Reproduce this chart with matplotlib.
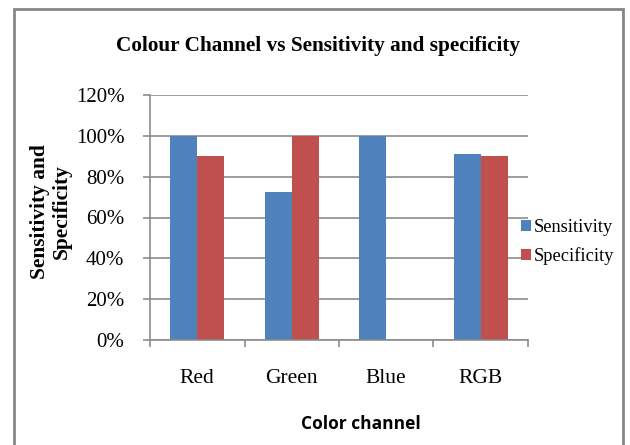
import numpy as np
import matplotlib.pyplot as plt
from matplotlib.patches import Rectangle
from matplotlib.ticker import PercentFormatter

# Data
channels = ["Red", "Green", "Blue", "RGB"]
sensitivity = [100, 72.7, 100, 90.9]
specificity = [90, 100, 0, 90]

BLUE, RED = "#4f81bd", "#c0504d"
GRID = "#8c8c8c"
SERIF = "Liberation Serif"

fig = plt.figure(figsize=(6.30, 4.45), dpi=100)
ax = fig.add_axes([150/630, 1 - 340/445, 378/630, 245/445])

# Bars, Excel style (gap width 150%)
xpos = np.arange(len(channels))
width = 1 / 3.5
ax.bar(xpos - width/2, sensitivity, width, color=BLUE, label="Sensitivity")
ax.bar(xpos + width/2, specificity, width, color=RED, label="Specificity")

# Axes
ax.set_xlim(-0.5, len(channels) - 0.5)
ax.set_ylim(0, 120)
ax.set_yticks(np.arange(0, 121, 20))
ax.yaxis.set_major_formatter(PercentFormatter(decimals=0))
ax.set_xticks(xpos)
ax.set_xticklabels(channels, family=SERIF, size=15.5)
ax.set_xticks(np.arange(-0.5, len(channels)), minor=True)
ax.tick_params(axis='x', which='major', length=0, pad=21)
ax.tick_params(axis='x', which='minor', length=5, color=GRID, width=1.2)
ax.tick_params(axis='y', length=5, color=GRID, width=1.2, pad=13.5)
for lbl in ax.get_yticklabels():
    lbl.set_family(SERIF)
    lbl.set_size(15)
ax.grid(axis='y', color=GRID, linewidth=1.2)
ax.set_axisbelow(True)
for side in ('top', 'right'):
    ax.spines[side].set_visible(False)
for side in ('left', 'bottom'):
    ax.spines[side].set_color(GRID)
    ax.spines[side].set_linewidth(1.2)

# Texts
fig.text(318/630, 1 - 46/445, "Colour Channel vs Sensitivity and specificity",
    family=SERIF, weight='bold', size=15.3, ha='center', va='center')
fig.text(51/630, 1 - 212/445, "Sensitivity and\nSpecificity", family=SERIF,
    weight='bold', size=15.4, rotation=90, ha='center', va='center',
    linespacing=1.08)
fig.text(361/630, 1 - 424/445, "Color channel", family="Open Sans",
    weight='bold', size=12.5, ha='center', va='center')

# Legend
ax.legend(loc='center left', bbox_to_anchor=(371/378, 98/245),
    frameon=False, prop={'family': SERIF, 'size': 13.2},
    handlelength=0.55, handleheight=0.55, handletextpad=0.16,
    labelspacing=0.6, borderaxespad=0, borderpad=0)

# Frame around the chart
fig.patches.append(Rectangle((14/630, -0.05), 609/630, 1.05 - 9/445,
    transform=fig.transFigure, fill=False, edgecolor="#868686", linewidth=2))

fig.savefig("out.png", dpi=100)
